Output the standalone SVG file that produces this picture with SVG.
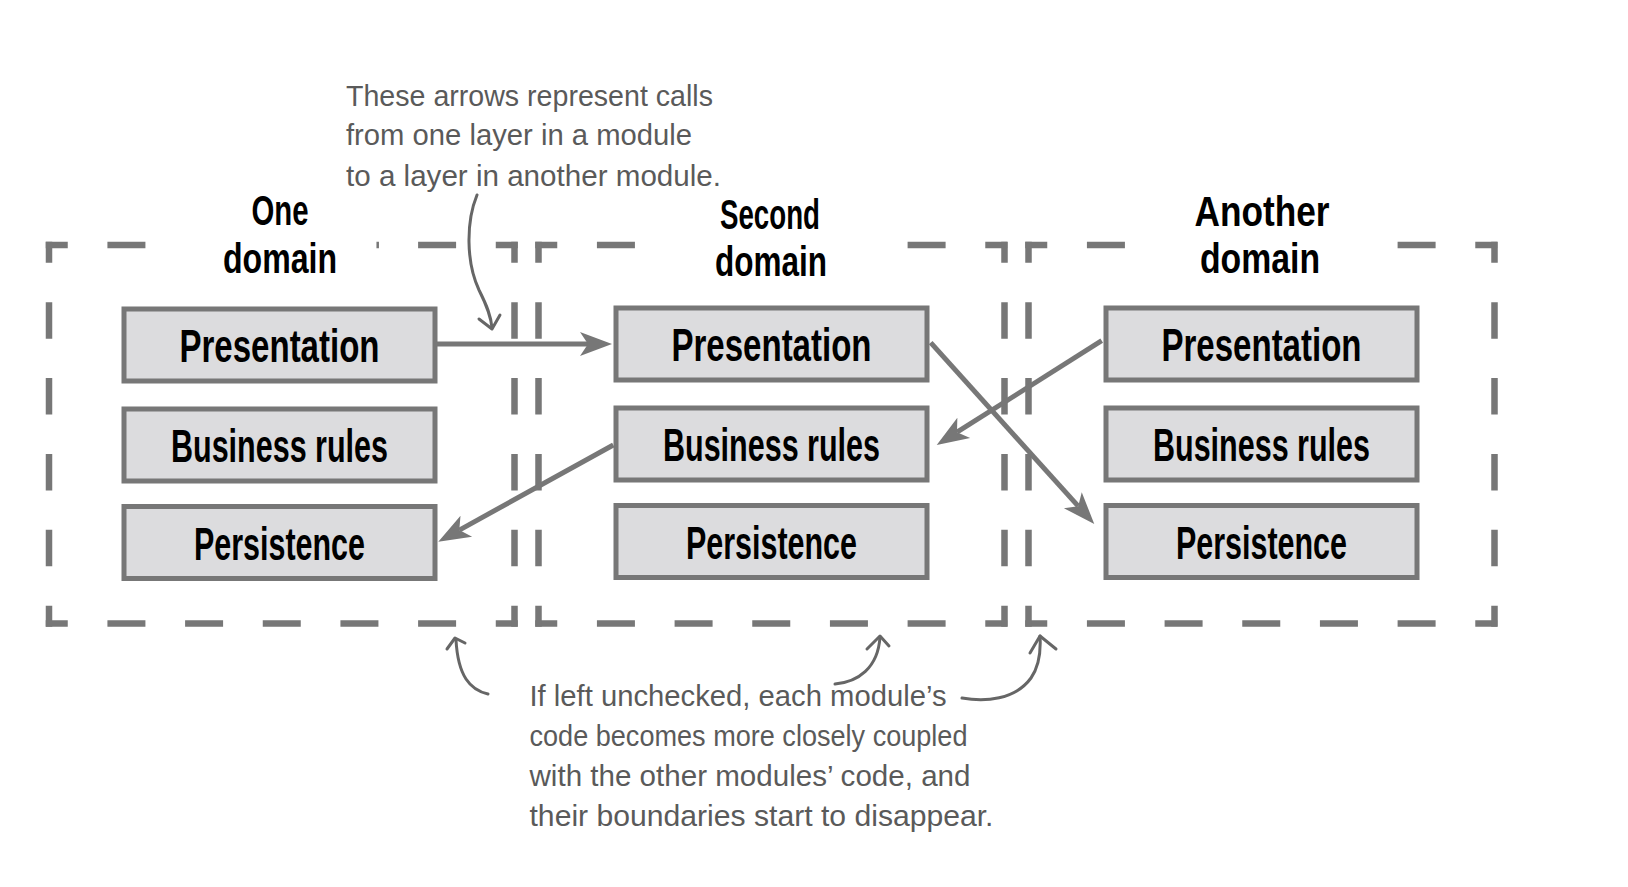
<svg xmlns="http://www.w3.org/2000/svg" width="1628" height="887" viewBox="0 0 1628 887">
<style>
.dom{fill:none;stroke:#777;stroke-width:6.5}
.v{stroke-dasharray:21 39.4 36.5 39.4 36.5 39.4 36.5 39.4 36.5 39.4 21}
.b{stroke-dasharray:22 39.67 38 39.67 38 39.67 38 39.67 38 39.67 38 39.67 22}
.t{stroke-dasharray:22 39.67 38 272.68 38 39.67 22}
.t1{stroke-dasharray:22 39.67 38 231.03 2.5 39.15 38 39.67 22}
.box{fill:#dcdcde;stroke:#777;stroke-width:5}
.lbl{font-family:"Liberation Sans",Arial,sans-serif;font-weight:bold;font-size:46px;fill:#000;text-anchor:middle}
.ttl{font-family:"Liberation Sans",Arial,sans-serif;font-weight:bold;font-size:42px;fill:#000;text-anchor:middle}
.note{font-family:"Liberation Sans",Arial,sans-serif;font-size:29px;fill:#5a5a5a}
.conn{fill:none;stroke:#777;stroke-width:5}
.hand{fill:none;stroke:#666;stroke-width:3;stroke-linecap:round;stroke-linejoin:round}
</style>
<defs>
<marker id="ah" markerUnits="userSpaceOnUse" orient="auto" refX="0" refY="0" markerWidth="40" markerHeight="30" overflow="visible">
<path d="M24,0 L-8,-12 L0,0 L-8,12 Z" fill="#777"/>
</marker>
</defs>
<rect width="1628" height="887" fill="#fff"/>

<g id="domain-one">
<path class="dom t1" d="M45.75,245 H517.75"/>
<path class="dom b" d="M45.75,623.5 H517.75"/>
<path class="dom v" d="M49,241.75 V626.75"/>
<path class="dom v" d="M514.5,241.75 V626.75"/>
<text class="ttl" x="280" y="225" textLength="57" lengthAdjust="spacingAndGlyphs">One</text>
<text class="ttl" x="280" y="273" textLength="114" lengthAdjust="spacingAndGlyphs">domain</text>
</g>
<g id="domain-second">
<path class="dom t" d="M535.25,245 H1007.75"/>
<path class="dom b" d="M535.25,623.5 H1007.75"/>
<path class="dom v" d="M538.5,241.75 V626.75"/>
<path class="dom v" d="M1004.5,241.75 V626.75"/>
<text class="ttl" x="770" y="229" textLength="100" lengthAdjust="spacingAndGlyphs">Second</text>
<text class="ttl" x="771" y="276" textLength="112" lengthAdjust="spacingAndGlyphs">domain</text>
</g>
<g id="domain-another">
<path class="dom t" d="M1025.25,245 H1497.75"/>
<path class="dom b" d="M1025.25,623.5 H1497.75"/>
<path class="dom v" d="M1028.5,241.75 V626.75"/>
<path class="dom v" d="M1494.5,241.75 V626.75"/>
<text class="ttl" x="1262" y="226" textLength="135" lengthAdjust="spacingAndGlyphs">Another</text>
<text class="ttl" x="1260" y="273" textLength="120" lengthAdjust="spacingAndGlyphs">domain</text>
</g>

<g id="one-presentation"><rect class="box" x="124" y="309" width="311" height="72"/><text class="lbl" x="279.5" y="362" textLength="200" lengthAdjust="spacingAndGlyphs">Presentation</text></g>
<g id="one-business"><rect class="box" x="124" y="409" width="311" height="72"/><text class="lbl" x="279.5" y="462" textLength="217" lengthAdjust="spacingAndGlyphs">Business rules</text></g>
<g id="one-persistence"><rect class="box" x="124" y="506.5" width="311" height="72"/><text class="lbl" x="279.5" y="559.5" textLength="171" lengthAdjust="spacingAndGlyphs">Persistence</text></g>

<g id="second-presentation"><rect class="box" x="616" y="308" width="311" height="72"/><text class="lbl" x="771.5" y="361" textLength="200" lengthAdjust="spacingAndGlyphs">Presentation</text></g>
<g id="second-business"><rect class="box" x="616" y="408" width="311" height="72"/><text class="lbl" x="771.5" y="461" textLength="217" lengthAdjust="spacingAndGlyphs">Business rules</text></g>
<g id="second-persistence"><rect class="box" x="616" y="505.5" width="311" height="72"/><text class="lbl" x="771.5" y="558.5" textLength="171" lengthAdjust="spacingAndGlyphs">Persistence</text></g>

<g id="another-presentation"><rect class="box" x="1106" y="308" width="311" height="72"/><text class="lbl" x="1261.5" y="361" textLength="200" lengthAdjust="spacingAndGlyphs">Presentation</text></g>
<g id="another-business"><rect class="box" x="1106" y="408" width="311" height="72"/><text class="lbl" x="1261.5" y="461" textLength="217" lengthAdjust="spacingAndGlyphs">Business rules</text></g>
<g id="another-persistence"><rect class="box" x="1106" y="505.5" width="311" height="72"/><text class="lbl" x="1261.5" y="558.5" textLength="171" lengthAdjust="spacingAndGlyphs">Persistence</text></g>

<g id="connectors">
<path class="conn" d="M436,344 L588,344" marker-end="url(#ah)"/>
<path class="conn" d="M930.7,342.7 L1078.2,506.2" marker-end="url(#ah)"/>
<path class="conn" d="M1101.7,340.7 L957,432.2" marker-end="url(#ah)"/>
<path class="conn" d="M613.3,445 L459.3,530.1" marker-end="url(#ah)"/>
</g>

<g id="note-top">
<text class="note" x="346" y="106" textLength="367" lengthAdjust="spacingAndGlyphs">These arrows represent calls</text>
<text class="note" x="346" y="145" textLength="346" lengthAdjust="spacingAndGlyphs">from one layer in a module</text>
<text class="note" x="346" y="186" textLength="375" lengthAdjust="spacingAndGlyphs">to a layer in another module.</text>
<path class="hand" d="M477,195 C466,222 466,262 479,290 C487,306 491,316 492,328"/>
<path class="hand" d="M479,319 L492,329 L500,315"/>
</g>

<g id="note-bottom">
<text class="note" x="529.5" y="706" textLength="417" lengthAdjust="spacingAndGlyphs">If left unchecked, each module’s</text>
<text class="note" x="529.5" y="746" textLength="438" lengthAdjust="spacingAndGlyphs">code becomes more closely coupled</text>
<text class="note" x="529.5" y="786" textLength="441" lengthAdjust="spacingAndGlyphs">with the other modules’ code, and</text>
<text class="note" x="529.5" y="826" textLength="464" lengthAdjust="spacingAndGlyphs">their boundaries start to disappear.</text>
<path class="hand" d="M488,694 C470,690 458,676 456,640"/>
<path class="hand" d="M447,649 L455,638 L465,643"/>
<path class="hand" d="M835,684 C858,682 878,668 880,637"/>
<path class="hand" d="M867,649 L880,636 L889,646"/>
<path class="hand" d="M962,698 C985,702 1015,700 1031,678 C1038,668 1041,652 1040,636"/>
<path class="hand" d="M1030,653 L1040,636 L1056,649"/>
</g>
</svg>
